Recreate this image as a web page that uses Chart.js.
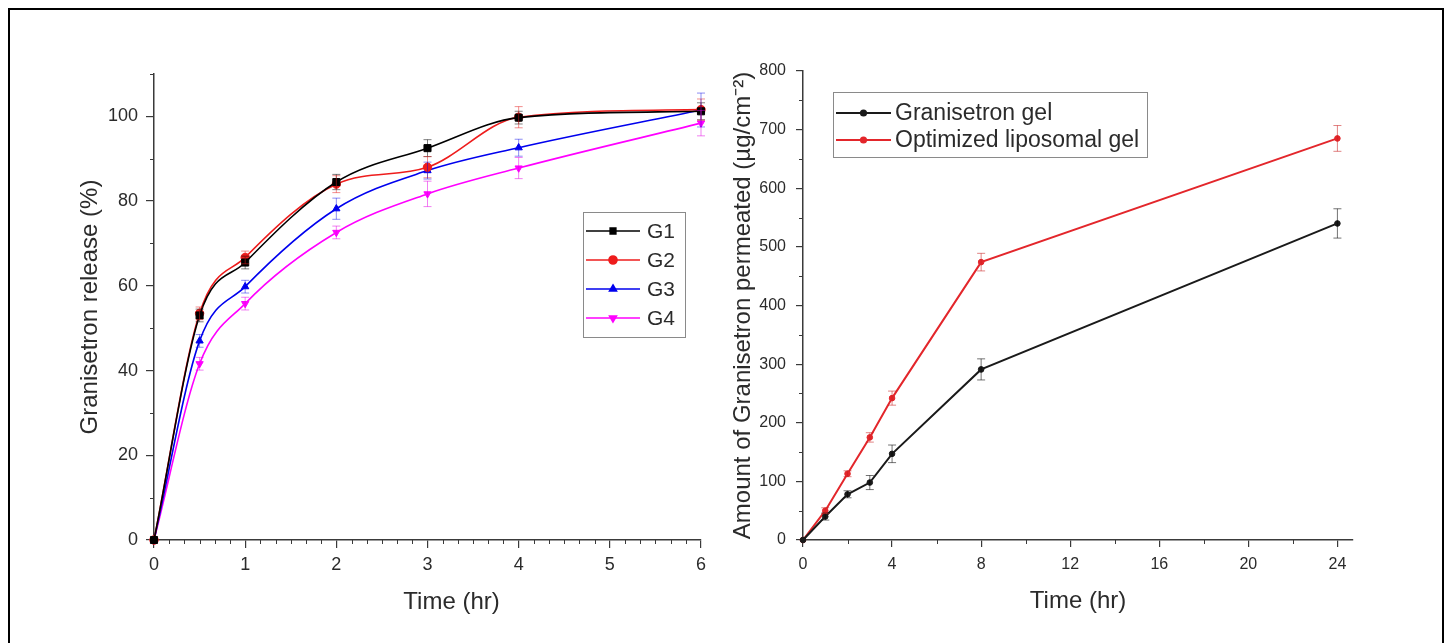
<!DOCTYPE html>
<html>
<head>
<meta charset="utf-8">
<script src="https://cdn.jsdelivr.net/npm/chart.js@4.4.1/dist/chart.umd.min.js"></script>
<style>
  html, body { margin: 0; padding: 0; background: #fff; }
  body { width: 1452px; height: 643px; position: relative; overflow: hidden; }
  #frame { position: absolute; left: 8px; top: 8px; width: 1432px; height: 700px; border: 2px solid #000; }
  .panel { position: absolute; top: 0; }
</style>
</head>
<body>
<div id="frame"></div>
<canvas id="releaseChart" class="panel" style="left:0" width="726" height="643"></canvas>
<canvas id="permChart" class="panel" style="left:726px" width="726" height="643"></canvas>
<script>
// release study (left)
var releaseTime = [0, 0.5, 1, 2, 3, 4, 6];
var g1 = [0, 53, 65.5, 84.5, 92.5, 99.7, 101.2];
var g2 = [0, 53.5, 66.7, 84, 88, 99.8, 101.6];
var g3 = [0, 47, 59.8, 78.2, 87.2, 92.6, 101.5];
var g4 = [0, 41.6, 55.8, 72.6, 81.7, 87.8, 98.4];
var g1Err = [0, 1.5, 1.5, 1.8, 2, 1.5, 2];
var g2Err = [0, 1.5, 1.5, 2, 2.5, 2.5, 2.5];
var g3Err = [0, 1.5, 1.5, 2.5, 2, 2, 4];
var g4Err = [0, 1.5, 1.5, 1.5, 3, 2.5, 3];
var releaseXTicks = [0, 1, 2, 3, 4, 5, 6];
var releaseYTicks = [0, 20, 40, 60, 80, 100];

// permeation study (right)
var permTime = [0, 1, 2, 3, 4, 8, 24];
var gelVals = [0, 40, 78, 98, 147, 291, 540];
var gelErr = [0, 6, 6, 12, 15, 18, 25];
var lipoVals = [0, 50, 113, 175, 242, 474, 685];
var lipoErr = [0, 5, 5, 8, 12, 15, 22];
var permXTicks = [0, 4, 8, 12, 16, 20, 24];
var permYTicks = [0, 100, 200, 300, 400, 500, 600, 700, 800];

var axisColor = "#3a3a3a";
var textColor = "#2b2b2b";
var fontFam = "'Liberation Sans', Arial, sans-serif";

function pts(xs, ys) {
  return xs.map(function (x, i) { return { x: x, y: ys[i] }; });
}

var errorBars = {
  id: "errorBars",
  afterDatasetsDraw: function (chart) {
    var ctx = chart.ctx, ys = chart.scales.y;
    chart.data.datasets.forEach(function (ds, i) {
      if (!ds.errors) return;
      var meta = chart.getDatasetMeta(i);
      ctx.save();
      ctx.strokeStyle = ds.errorColor;
      ctx.lineWidth = 1;
      meta.data.forEach(function (pt, j) {
        var e = ds.errors[j];
        if (!e) return;
        var v = ds.data[j].y;
        var t = ys.getPixelForValue(v + e), b = ys.getPixelForValue(v - e);
        ctx.beginPath();
        ctx.moveTo(pt.x, t); ctx.lineTo(pt.x, b);
        ctx.moveTo(pt.x - 4, t); ctx.lineTo(pt.x + 4, t);
        ctx.moveTo(pt.x - 4, b); ctx.lineTo(pt.x + 4, b);
        ctx.stroke();
      });
      ctx.restore();
    });
  }
};

var minorTicks = {
  id: "minorTicks",
  afterDraw: function (chart, args, opts) {
    var ctx = chart.ctx;
    ctx.save();
    ctx.strokeStyle = axisColor;
    ctx.lineWidth = 1;
    ["x", "y"].forEach(function (id) {
      var s = chart.scales[id], o = opts[id];
      var n = Math.floor((s.max - s.min) / o.step + 1e-6);
      for (var k = 0; k <= n; k++) {
        if (k % o.every === 0) continue;
        var p = Math.round(s.getPixelForValue(s.min + k * o.step)) + 0.5;
        ctx.beginPath();
        if (id === "x") { ctx.moveTo(p, s.top); ctx.lineTo(p, s.top + 4); }
        else { ctx.moveTo(s.right, p); ctx.lineTo(s.right - 4, p); }
        ctx.stroke();
      }
    });
    ctx.restore();
  }
};

var boxLegend = {
  id: "boxLegend",
  afterDraw: function (chart, args, o) {
    var ctx = chart.ctx;
    ctx.save();
    ctx.fillStyle = "#fff";
    ctx.fillRect(o.x, o.y, o.w, o.h);
    ctx.strokeStyle = "#8a8a8a";
    ctx.lineWidth = 1;
    ctx.strokeRect(o.x + 0.5, o.y + 0.5, o.w, o.h);
    ctx.font = o.font + "px " + fontFam;
    ctx.textBaseline = "middle";
    chart.data.datasets.forEach(function (ds, i) {
      var cy = o.y + o.first + i * o.gap;
      ctx.strokeStyle = ds.borderColor;
      ctx.lineWidth = ds.borderWidth;
      ctx.beginPath();
      ctx.moveTo(o.x + o.l0, cy); ctx.lineTo(o.x + o.l1, cy);
      ctx.stroke();
      ctx.fillStyle = ds.backgroundColor;
      Chart.helpers.drawPoint(ctx, {
        pointStyle: ds.pointStyle, rotation: ds.pointRotation || 0,
        radius: o.mark, borderWidth: 1
      }, o.x + (o.l0 + o.l1) / 2, cy);
      ctx.fillStyle = textColor;
      ctx.fillText(ds.label, o.x + o.tx, cy + 1);
    });
    ctx.restore();
  }
};

// x title drawn a little right of centre, like the original
var shiftedTitle = {
  id: "shiftedTitle",
  afterDraw: function (chart, args, o) {
    var ctx = chart.ctx, s = chart.scales.x;
    ctx.save();
    ctx.font = o.size + "px " + fontFam;
    ctx.fillStyle = textColor;
    ctx.textAlign = "center";
    ctx.textBaseline = "middle";
    ctx.fillText(o.text, (s.left + s.right) / 2 + o.dx, o.y);
    ctx.restore();
  }
};

function axisOpts(min, max, tickVals, tickFont, pad, tl) {
  return {
    type: "linear",
    min: min,
    max: max,
    afterBuildTicks: function (s) { s.ticks = tickVals.map(function (v) { return { value: v }; }); },
    ticks: { color: textColor, font: { family: fontFam, size: tickFont }, padding: pad, autoSkip: false, maxRotation: 0 },
    grid: { drawOnChartArea: false, drawTicks: true, tickLength: tl, color: axisColor, lineWidth: 1.2 },
    border: { display: true, color: axisColor, width: 1.5 }
  };
}

// left chart
var ctxA = document.getElementById("releaseChart").getContext("2d");
var leftX = axisOpts(0, 6, releaseXTicks, 18, 6, 8);
leftX.afterFit = function (s) { s.height = 103; };
var leftY = axisOpts(0, 110, releaseYTicks, 18, 8, 8);
leftY.title = { display: true, text: "Granisetron release (%)", color: textColor, font: { family: fontFam, size: 24 }, padding: { top: 76, bottom: 0 } };
leftY.afterFit = function (s) { s.width = 154; };

function relSet(label, vals, errs, color, style, rot, errColor) {
  return {
    label: label, data: pts(releaseTime, vals), errors: errs, errorColor: errColor,
    borderColor: color, backgroundColor: color, borderWidth: 1.6,
    pointStyle: style, pointRotation: rot, pointRadius: style === "rect" ? 5 : 4.2,
    pointBorderWidth: 1, cubicInterpolationMode: "monotone", clip: false
  };
}

new Chart(ctxA, {
  type: "line",
  data: {
    datasets: [
      relSet("G1", g1, g1Err, "#000000", "rect", 0, "rgba(0,0,0,0.5)"),
      relSet("G2", g2, g2Err, "#ee1c1c", "circle", 0, "rgba(230,30,30,0.5)"),
      relSet("G3", g3, g3Err, "#0000ee", "triangle", 0, "rgba(0,0,230,0.45)"),
      relSet("G4", g4, g4Err, "#ff00ff", "triangle", 180, "rgba(230,0,230,0.5)")
    ]
  },
  options: {
    responsive: false,
    animation: false,
    layout: { padding: { left: 0, right: 25, top: 74, bottom: 0 } },
    scales: { x: leftX, y: leftY },
    plugins: {
      legend: { display: false },
      tooltip: { enabled: false },
      minorTicks: { x: { step: 1 / 6, every: 6 }, y: { step: 10, every: 2 } },
      boxLegend: { x: 583, y: 212, w: 102, h: 125, first: 19, gap: 29, l0: 3, l1: 57, tx: 64, mark: 4, font: 21 },
      shiftedTitle: { text: "Time (hr)", size: 24, dx: 24, y: 602 }
    }
  },
  plugins: [errorBars, minorTicks, boxLegend, shiftedTitle]
});

// right chart
var ctxB = document.getElementById("permChart").getContext("2d");
var rightX = axisOpts(0, 24.7, permXTicks, 16, 8, 7);
rightX.title = { display: true, text: "Time (hr)", color: textColor, font: { family: fontFam, size: 24 }, padding: { top: 0, bottom: 27 } };
rightX.afterFit = function (s) { s.height = 103; };
var rightY = axisOpts(0, 800, permYTicks, 16, 10, 7);
rightY.title = { display: true, text: "Amount of Granisetron permeated (\u00b5g/cm\u207b\u00b2)", color: textColor, font: { family: fontFam, size: 24 }, padding: { top: 3, bottom: 0 } };
rightY.afterFit = function (s) { s.width = 77; };

function permSet(label, vals, errs, color, errColor) {
  return {
    label: label, data: pts(permTime, vals), errors: errs, errorColor: errColor,
    borderColor: color, backgroundColor: color, borderWidth: 2,
    pointStyle: "circle", pointRadius: 2.8, pointBorderWidth: 1, tension: 0, clip: false
  };
}

new Chart(ctxB, {
  type: "line",
  data: {
    datasets: [
      permSet("Granisetron gel", gelVals, gelErr, "#1a1a1a", "rgba(0,0,0,0.55)"),
      permSet("Optimized liposomal gel", lipoVals, lipoErr, "#e3262b", "rgba(200,30,30,0.55)")
    ]
  },
  options: {
    responsive: false,
    animation: false,
    layout: { padding: { left: 0, right: 99, top: 71, bottom: 0 } },
    scales: { x: rightX, y: rightY },
    plugins: {
      legend: { display: false },
      tooltip: { enabled: false },
      minorTicks: { x: { step: 2, every: 2 }, y: { step: 50, every: 2 } },
      boxLegend: { x: 107, y: 92, w: 314, h: 65, first: 21, gap: 27, l0: 3, l1: 58, tx: 62, mark: 2.6, font: 23 }
    }
  },
  plugins: [errorBars, minorTicks, boxLegend]
});
</script>
</body>
</html>
